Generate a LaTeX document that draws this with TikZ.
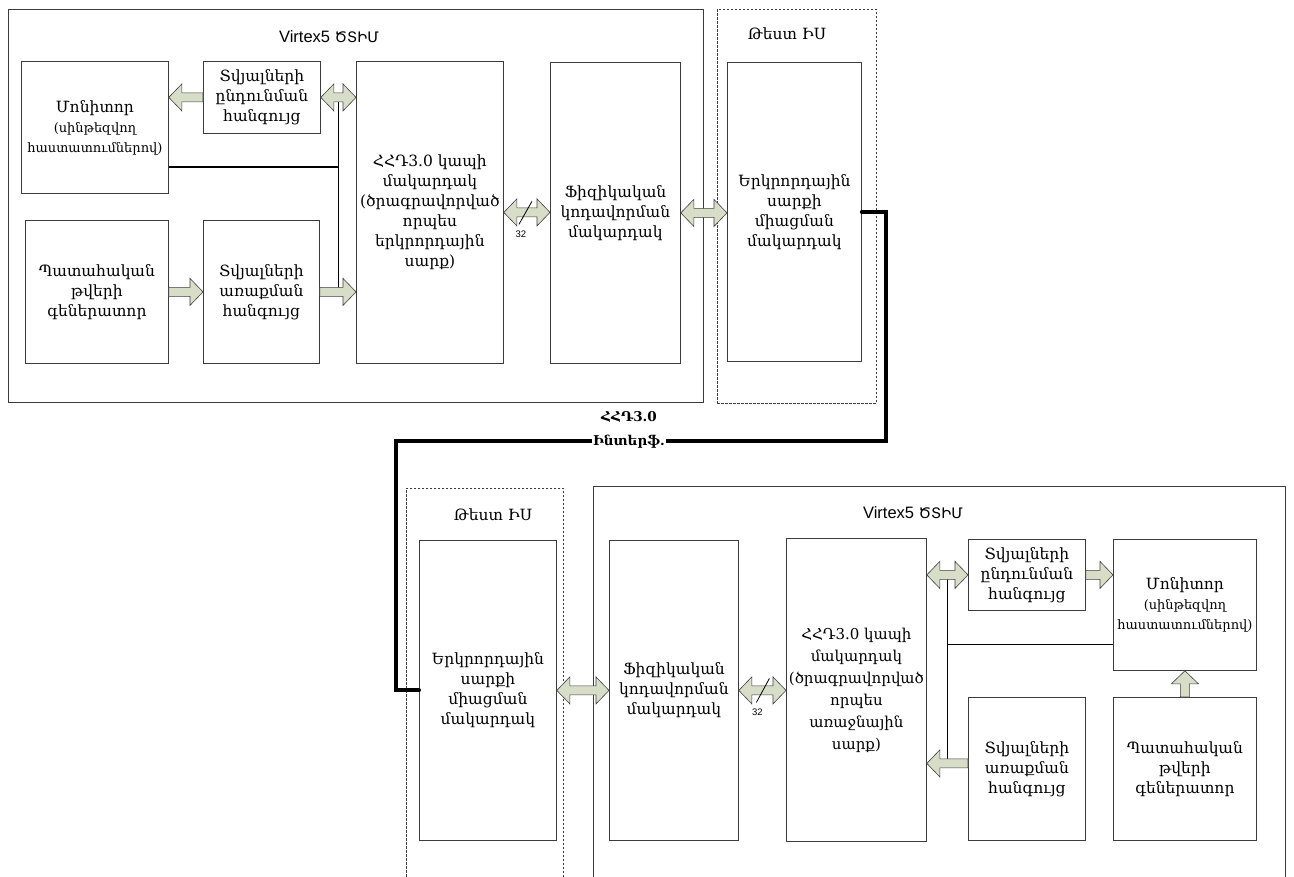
\documentclass[tikz,border=0pt]{standalone}
\usepackage{fontspec}
\setmainfont{DejaVu Serif}
\newfontfamily\latinsans{Liberation Sans}
\newfontfamily\armsans{DejaVu Sans}
\usetikzlibrary{calc}

\definecolor{arrowgreen}{RGB}{216,221,200}
\definecolor{frame}{RGB}{60,60,60}

\newcommand{\smalltxt}{\fontsize{13}{20}\selectfont}
\newcommand{\fpgatitle}{{\latinsans\fontsize{16.5}{20}\selectfont Virtex5 }{\armsans\fontsize{14.5}{20}\selectfont ԾՏԻՄ}}

% single-headed block arrow from #1 to #2
\newcommand{\sarrow}[2]{%
  \coordinate (sa-s) at (#1);
  \coordinate (sa-e) at (#2);
  \coordinate (sa-h) at ($(sa-e)!13pt!(sa-s)$);
  \filldraw[fatarrow] ($(sa-s)!4.5pt!90:(sa-e)$) -- ($(sa-h)!4.5pt!90:(sa-e)$)
    -- ($(sa-h)!13.5pt!90:(sa-e)$) -- (sa-e) -- ($(sa-h)!13.5pt!-90:(sa-e)$)
    -- ($(sa-h)!4.5pt!-90:(sa-e)$) -- ($(sa-s)!4.5pt!-90:(sa-e)$) -- cycle;
}
% double-headed block arrow between #1 and #2
\newcommand{\darrow}[2]{%
  \coordinate (da-s) at (#1);
  \coordinate (da-e) at (#2);
  \coordinate (da-a) at ($(da-s)!13pt!(da-e)$);
  \coordinate (da-b) at ($(da-e)!13pt!(da-s)$);
  \filldraw[fatarrow] (da-s) -- ($(da-a)!13.5pt!90:(da-e)$) -- ($(da-a)!4.5pt!90:(da-e)$)
    -- ($(da-b)!4.5pt!90:(da-e)$) -- ($(da-b)!13.5pt!90:(da-e)$) -- (da-e)
    -- ($(da-b)!13.5pt!-90:(da-e)$) -- ($(da-b)!4.5pt!-90:(da-e)$)
    -- ($(da-a)!4.5pt!-90:(da-e)$) -- ($(da-a)!13.5pt!-90:(da-e)$) -- cycle;
}

\tikzset{
  box/.style={draw=frame, line width=0.8pt, anchor=north west, align=center,
    inner sep=0.5pt, font=\fontsize{15.5}{20}\selectfont},
  container/.style={draw=frame, line width=0.8pt, anchor=north west, inner sep=0pt},
  testbox/.style={draw=frame, line width=0.6pt, dash pattern=on 2.5pt off 1.5pt,
    anchor=north west, inner sep=0pt},
  ttl/.style={font=\fontsize{15.5}{20}\selectfont, inner sep=1pt},
  fatarrow/.style={fill=arrowgreen, draw=black!75, line width=0.6pt, line join=miter},
  bus/.style={draw=black, line width=1.8pt},
  slash/.style={draw=black, line width=0.8pt},
  num/.style={font=\latinsans\fontsize{9.5}{10}\selectfont, inner sep=0pt},
  hostlink/.style={draw=black, line width=4pt, line cap=round, line join=miter},
  iflabel/.style={font=\bfseries\fontsize{13.5}{24}\selectfont, align=center,
    fill=white, inner sep=1pt},
}

\begin{document}
\begin{tikzpicture}[x=1pt, y=-1pt]
\useasboundingbox[fill=white] (0,0) rectangle (1294,877);

% ---------- upper board ----------
\node[container, minimum width=695, minimum height=393] (fpgaA) at (8,9) {};
\node[ttl] (fpgaAt) at (329,37) {\fpgatitle};
\node[testbox, minimum width=159, minimum height=394] (testA) at (717,9) {};
\node[ttl] (testAt) at (787,34) {Թեստ ԻՍ};

\node[box, minimum width=147, minimum height=132] (monA) at (21,61)
  {Մոնիտոր\\{\smalltxt (սինթեզվող}\\{\smalltxt հաստատումներով)}};
\node[box, minimum width=117, minimum height=72] (rxA) at (203,61)
  {Տվյալների\\ընդունման\\հանգույց};
\node[box, minimum width=147, minimum height=302] (linkA) at (356,61)
  {ՀՀԴ3.0 կապի\\մակարդակ\\(ծրագրավորված\\որպես\\երկրորդային\\սարք)};
\node[box, minimum width=130, minimum height=301] (phyA) at (550,62)
  {Ֆիզիկական\\կոդավորման\\մակարդակ};
\node[box, minimum width=143, minimum height=143] (genA) at (25,220)
  {Պատահական\\թվերի\\գեներատոր};
\node[box, minimum width=116, minimum height=143] (txA) at (203,220)
  {Տվյալների\\առաքման\\հանգույց};
\node[box, minimum width=134, minimum height=299] (secA) at (727,62)
  {Երկրորդային\\սարքի\\միացման\\մակարդակ};

% shared data bus of the upper board
\coordinate (busA) at ($(rxA.east)!0.5!(linkA.west |- rxA.east)$);
\coordinate (tapA) at ($(monA.south east)!0.2!(monA.north east)$);
\draw[bus] (busA) -- (busA |- txA.east);
\draw[bus] (tapA) -- (busA |- tapA);

\sarrow{rxA.west}{monA.east |- rxA.west}
\darrow{rxA.east}{linkA.west |- rxA.east}
\sarrow{genA.east}{txA.west}
\sarrow{txA.east}{linkA.west |- txA.east}
\darrow{linkA.east}{phyA.west |- linkA.east}
\darrow{phyA.east}{secA.west |- phyA.east}

\coordinate (midA) at ($(linkA.east)!0.5!(phyA.west |- linkA.east)$);
\draw[slash] ($(midA)+(-8,12)$) -- ($(midA)+(5,-11)$);
\node[num] (wA) at ($(midA)+(-6,22)$) {32};

% ---------- lower board ----------
\node[container, minimum width=692, minimum height=420] (fpgaB) at (593,486) {};
\node[testbox, minimum width=157, minimum height=420] (testB) at (406,488) {};
\node[ttl] (testBt) at (493,515) {Թեստ ԻՍ};
\node[ttl] (fpgaBt) at (913,513) {\fpgatitle};

\node[box, minimum width=137, minimum height=300] (secB) at (419,540)
  {Երկրորդային\\սարքի\\միացման\\մակարդակ};
\node[box, minimum width=129, minimum height=300] (phyB) at (609,540)
  {Ֆիզիկական\\կոդավորման\\մակարդակ};
\node[box, minimum width=140, minimum height=303, font=\fontsize{15}{22}\selectfont]
  (linkB) at (786,538)
  {ՀՀԴ3.0 կապի\\մակարդակ\\(ծրագրավորված\\որպես\\առաջնային\\սարք)};
\node[box, minimum width=117, minimum height=71] (rxB) at (968,539)
  {Տվյալների\\ընդունման\\հանգույց};
\node[box, minimum width=143, minimum height=131] (monB) at (1113,539)
  {Մոնիտոր\\{\smalltxt (սինթեզվող}\\{\smalltxt հաստատումներով)}};
\node[box, minimum width=117, minimum height=143] (txB) at (968,697)
  {Տվյալների\\առաքման\\հանգույց};
\node[box, minimum width=143, minimum height=143] (genB) at (1113,697)
  {Պատահական\\թվերի\\գեներատոր};

% shared data bus of the lower board
\coordinate (busB) at ($(linkB.east |- rxB.west)!0.5!(rxB.west)$);
\coordinate (txBport) at ($(txB.west)+(0,-5.5)$);
\coordinate (tapB) at ($(monB.south west)!0.2!(monB.north west)$);
\draw[bus] (busB) -- (busB |- txBport);
\draw[bus] (tapB) -- (busB |- tapB);

\darrow{secB.east}{phyB.west |- secB.east}
\darrow{phyB.east}{linkB.west |- phyB.east}
\darrow{linkB.east |- rxB.west}{rxB.west}
\sarrow{rxB.east}{monB.west |- rxB.east}
\sarrow{txBport}{linkB.east |- txBport}
\sarrow{genB.north}{monB.south}

\coordinate (midB) at ($(phyB.east)!0.5!(linkB.west |- phyB.east)$);
\draw[slash] ($(midB)+(-6,12)$) -- ($(midB)+(7,-12)$);
\node[num] (wB) at ($(midB)+(-5,22)$) {32};

% ---------- USB 3.0 link between the two test boards ----------
\coordinate (kR) at (886,441);
\coordinate (kL) at (396,441);
\draw[hostlink] (secA.east) -| (kR) -- (kL) |- (secB.west);
\node[iflabel] (ifl) at (629,430) {ՀՀԴ3.0\\Ինտերֆ.};

\end{tikzpicture}
\end{document}
